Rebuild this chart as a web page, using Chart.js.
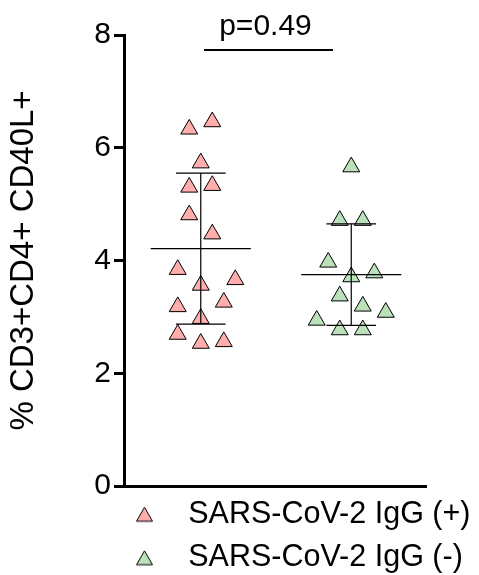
<!DOCTYPE html>
<html>
<head>
<meta charset="utf-8">
<script src="https://cdn.jsdelivr.net/npm/chart.js@4"></script>
<style>
  html, body { margin: 0; padding: 0; background: #fff; }
  #wrap { width: 479px; height: 575px; }
</style>
</head>
<body>
<div id="wrap"><canvas id="c" width="479" height="575"></canvas></div>
<script>
// ---- data ----
const groupLabels = ['SARS-CoV-2 IgG (+)', 'SARS-CoV-2 IgG (-)'];
const groupPositions = [1, 3];
const positiveValues = [6.33, 6.46, 5.73, 5.30, 5.33, 4.81, 4.47, 3.84, 3.66, 3.56, 3.26, 3.18, 2.97, 2.69, 2.53, 2.56];
const positiveSlots  = [-1, 1, 0, -1, 1, -1, 1, -2, 3, 0, 2, -2, 0, -2, 0, 2];
const negativeValues = [5.66, 4.71, 4.71, 3.97, 3.71, 3.78, 3.37, 3.19, 3.08, 2.94, 2.77, 2.77];
const negativeSlots  = [0, -1, 1, -2, 0, 2, -1, 1, 3, -3, -1, 1];
const groupMeans = [4.21, 3.75];
const sdLower = [2.87, 2.85];
const sdUpper = [5.55, 4.65];
const yTicks = [0, 2, 4, 6, 8];
const yAxisTitle = '% CD3+CD4+ CD40L+';
const pValueText = 'p=0.49';
const pBracket = { from: 1.043, to: 2.757, y: 7.73, textX: 1.86, textY: 8.0 };

// ---- styling ----
const FONT = '"Liberation Sans", Arial, Helvetica, sans-serif';
const fills = ['#FFADAD', '#BBE1BB'];
const slotStep = 0.153;
const meanHalf = 0.665;
const capHalf = 0.33;

Chart.defaults.font.family = FONT;
Chart.defaults.color = '#000';

function points(values, slots, center) {
  return values.map((v, i) => ({ x: center + slots[i] * slotStep, y: v }));
}

// legend marker image: triangle placed near the right side of a wide canvas
function legendTriangle(fill) {
  const c = document.createElement('canvas');
  c.width = 120; c.height = 20;
  const g = c.getContext('2d');
  const cx = 111.5, cy = 10;
  g.beginPath();
  g.moveTo(cx, cy - 7);
  g.lineTo(cx + 8, cy + 7);
  g.lineTo(cx - 8, cy + 7);
  g.closePath();
  g.fillStyle = fill;
  g.fill();
  g.lineWidth = 1;
  g.strokeStyle = '#000';
  g.stroke();
  return c;
}

const datasets = [];
const pointSets = [[positiveValues, positiveSlots], [negativeValues, negativeSlots]];
pointSets.forEach(([vals, slots], gi) => {
  datasets.push({
    label: groupLabels[gi],
    isGroup: true,
    data: points(vals, slots, groupPositions[gi]),
    pointStyle: 'triangle',
    pointRadius: 9.8,
    pointHoverRadius: 9.8,
    backgroundColor: fills[gi],
    borderColor: '#000',
    borderWidth: 1,
    order: 2
  });
});

function segment(a, b, width) {
  return {
    label: '',
    isGroup: false,
    data: [a, b],
    showLine: true,
    pointRadius: 0,
    pointHoverRadius: 0,
    borderColor: '#000',
    borderWidth: width,
    fill: false,
    order: 1
  };
}

groupPositions.forEach((cx, gi) => {
  datasets.push(segment({ x: cx - meanHalf, y: groupMeans[gi] }, { x: cx + meanHalf, y: groupMeans[gi] }, 1.2));
  datasets.push(segment({ x: cx, y: sdLower[gi] }, { x: cx, y: sdUpper[gi] }, 1.2));
  datasets.push(segment({ x: cx - capHalf, y: sdUpper[gi] }, { x: cx + capHalf, y: sdUpper[gi] }, 1.2));
  datasets.push(segment({ x: cx - capHalf, y: sdLower[gi] }, { x: cx + capHalf, y: sdLower[gi] }, 1.2));
});

const pValuePlugin = {
  id: 'pValue',
  afterDraw(chart) {
    const { ctx, scales: { x, y } } = chart;
    ctx.save();
    ctx.strokeStyle = '#000';
    ctx.lineWidth = 2;
    const yy = Math.round(y.getPixelForValue(pBracket.y));
    ctx.beginPath();
    ctx.moveTo(x.getPixelForValue(pBracket.from), yy);
    ctx.lineTo(x.getPixelForValue(pBracket.to), yy);
    ctx.stroke();
    ctx.fillStyle = '#000';
    ctx.font = '30px ' + FONT;
    ctx.textAlign = 'center';
    ctx.textBaseline = 'alphabetic';
    ctx.fillText(pValueText, x.getPixelForValue(pBracket.textX), y.getPixelForValue(pBracket.textY));
    ctx.restore();
  }
};

new Chart(document.getElementById('c'), {
  type: 'scatter',
  data: { datasets },
  options: {
    responsive: false,
    devicePixelRatio: 1,
    animation: false,
    events: [],
    layout: { padding: { top: 35, right: 0, bottom: -8, left: 0 } },
    scales: {
      x: {
        type: 'linear',
        min: -0.02,
        max: 3.98,
        ticks: { display: false },
        grid: { display: true, drawOnChartArea: false, drawTicks: false, lineWidth: 3, color: '#000' },
        border: { display: true, width: 3, color: '#000' },
        afterFit(scale) { scale.height = 0; }
      },
      y: {
        type: 'linear',
        position: 'left',
        min: 0,
        max: 8,
        afterBuildTicks(scale) { scale.ticks = yTicks.map(v => ({ value: v })); },
        ticks: { font: { size: 30 }, color: '#000', padding: 3 },
        grid: { display: true, drawOnChartArea: false, drawTicks: true, tickLength: 10, tickWidth: 3, tickColor: '#000', lineWidth: 3, color: '#000' },
        border: { display: true, width: 3, color: '#000' },
        title: { display: true, text: yAxisTitle, font: { size: 33 }, color: '#000', padding: { top: 4, bottom: 0 } },
        afterFit(scale) { scale.width = 124; }
      },
      yRight: {
        type: 'linear',
        position: 'right',
        min: 0,
        max: 8,
        ticks: { display: false },
        grid: { display: false },
        border: { display: false },
        afterFit(scale) { scale.width = 54; }
      }
    },
    plugins: {
      tooltip: { enabled: false },
      legend: {
        display: true,
        position: 'bottom',
        align: 'start',
        fullSize: true,
        labels: {
          usePointStyle: true,
          pointStyleWidth: 160,
          padding: 13,
          color: '#000',
          font: { size: 30.5 },
          filter: (item, data) => data.datasets[item.datasetIndex].isGroup,
          generateLabels(chart) {
            const items = Chart.defaults.plugins.legend.labels.generateLabels(chart);
            items.forEach(it => {
              const ds = chart.data.datasets[it.datasetIndex];
              if (ds.isGroup) it.pointStyle = legendTriangle(ds.backgroundColor);
            });
            return items;
          }
        }
      }
    }
  },
  plugins: [pValuePlugin]
});
</script>
</body>
</html>
